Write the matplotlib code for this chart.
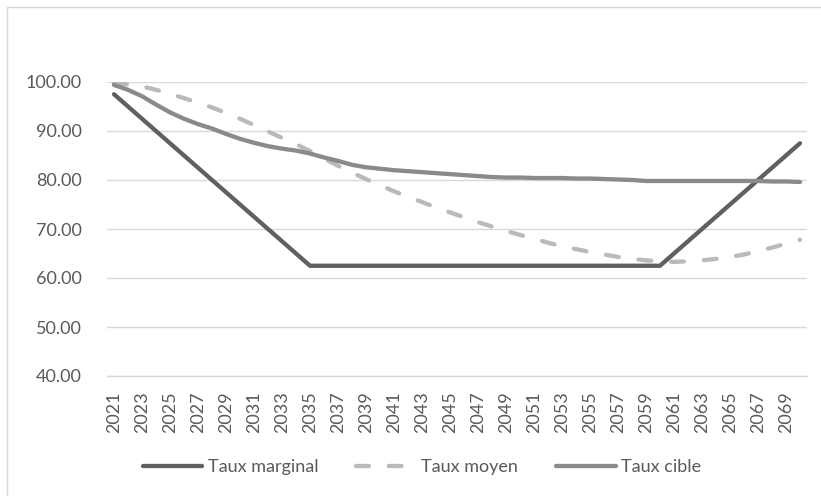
#!/usr/bin/env python3
"""Line chart of marginal, average and target rates, 2021-2070."""

import matplotlib
matplotlib.use("Agg")
import matplotlib.pyplot as plt
from matplotlib.patches import Rectangle

YEARS = list(range(2021, 2071))

TAUX_MARGINAL = [
    97.5, 95.0, 92.5, 90.0, 87.5, 85.0, 82.5, 80.0, 77.5, 75.0,
    72.5, 70.0, 67.5, 65.0, 62.5, 62.5, 62.5, 62.5, 62.5, 62.5,
    62.5, 62.5, 62.5, 62.5, 62.5, 62.5, 62.5, 62.5, 62.5, 62.5,
    62.5, 62.5, 62.5, 62.5, 62.5, 62.5, 62.5, 62.5, 62.5, 62.5,
    65.0, 67.5, 70.0, 72.5, 75.0, 77.5, 80.0, 82.5, 85.0, 87.5,
]

TAUX_MOYEN = [
    99.8, 99.5, 99.1, 98.4, 97.6, 96.7, 95.8, 94.8, 93.7, 92.5,
    91.2, 89.9, 88.6, 87.3, 85.9, 84.4, 82.9, 81.5, 80.2, 78.9,
    77.7, 76.6, 75.5, 74.4, 73.4, 72.4, 71.4, 70.5, 69.6, 68.8,
    68.0, 67.2, 66.5, 65.9, 65.3, 64.8, 64.3, 63.9, 63.6, 63.4,
    63.3, 63.4, 63.6, 63.9, 64.3, 64.8, 65.5, 66.2, 67.0, 67.8,
]

TAUX_CIBLE = [
    99.4, 98.4, 97.1, 95.4, 93.8, 92.5, 91.4, 90.5, 89.4, 88.4,
    87.6, 86.9, 86.4, 86.0, 85.4, 84.6, 83.9, 83.1, 82.6, 82.3,
    82.0, 81.8, 81.6, 81.4, 81.2, 81.0, 80.8, 80.6, 80.5, 80.5,
    80.4, 80.4, 80.4, 80.3, 80.3, 80.2, 80.1, 80.0, 79.8, 79.8,
    79.8, 79.8, 79.8, 79.8, 79.8, 79.8, 79.8, 79.7, 79.7, 79.6,
]

Y_TICKS = [40, 50, 60, 70, 80, 90, 100]

plt.rcParams["font.family"] = ["Lato", "DejaVu Sans"]

W, H = 821, 496
fig = plt.figure(figsize=(W / 100, H / 100), dpi=100, facecolor="white")

# chart frame (only the left and top edges fall inside the canvas)
fig.add_artist(Rectangle((7 / W, -0.2), 1.2, (H - 7) / H + 0.2,
                         transform=fig.transFigure, fill=False,
                         edgecolor="#d9d9d9", linewidth=1.0))

ax = fig.add_axes([107 / W, (H - 376) / H, 700 / W, 294 / H])

x = list(range(len(YEARS)))
ax.plot(x, TAUX_MARGINAL, color="#606060", lw=3.1, solid_capstyle="round",
        solid_joinstyle="round", label="Taux marginal", zorder=3)
ax.plot(x, TAUX_MOYEN, color="#bababa", lw=3.1, ls=(0, (3.0, 4.6)),
        dash_capstyle="round", label="Taux moyen", zorder=3)
ax.plot(x, TAUX_CIBLE, color="#8a8a8a", lw=3.1, solid_capstyle="round",
        solid_joinstyle="round", label="Taux cible", zorder=3)

ax.set_xlim(-0.5, len(YEARS) - 0.5)
ax.set_ylim(40, 100)
ax.set_yticks(Y_TICKS)
ax.set_yticklabels([f"{v:.2f}" for v in Y_TICKS])
ax.set_xticks(x[::2])
ax.set_xticklabels([str(y) for y in YEARS[::2]], rotation=90)
ax.tick_params(axis="y", length=0, pad=18, labelsize=13, labelcolor="#595959")
ax.tick_params(axis="x", length=0, pad=11, labelsize=13, labelcolor="#595959")

ax.grid(axis="y", color="#d9d9d9", linewidth=1.0, zorder=0)
for side in ("left", "right", "top"):
    ax.spines[side].set_visible(False)
ax.spines["bottom"].set_color("#d9d9d9")
ax.spines["bottom"].set_linewidth(1.0)

leg = ax.legend(loc="center", bbox_to_anchor=(422 / W, (H - 467) / H),
                bbox_transform=fig.transFigure, ncol=3, frameon=False,
                fontsize=13, handlelength=3.3, handletextpad=0.3,
                columnspacing=2.1, labelcolor="#595959")

fig.savefig("out.png", dpi=100, facecolor="white")
